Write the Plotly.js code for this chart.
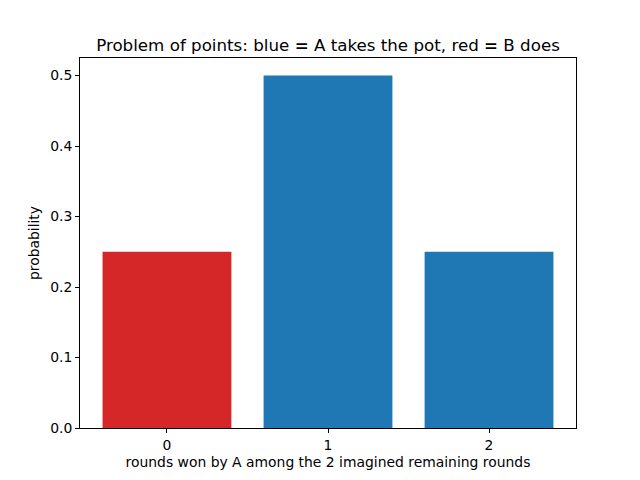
<!DOCTYPE html>
<html>
<head>
<meta charset="utf-8">
<script src="https://cdn.plot.ly/plotly-3.1.0.min.js"></script>
<style>
  html, body { margin: 0; padding: 0; background: #fff; }
  #chart { width: 640px; height: 480px; }
</style>
</head>
<body>
<div id="chart"></div>
<script>
// rounds won by A, and the probability of each outcome
const roundsWon = [0, 1, 2];
const probability = [0.25, 0.5, 0.25];
const winner = ["B", "A", "A"];
const tickLabels = ["0", "1", "2"];

const colorFor = { A: "#1f77b4", B: "#d62728" };

const trace = {
  type: "bar",
  x: roundsWon,
  y: probability,
  width: 0.8,
  marker: { color: winner.map(w => colorFor[w]), line: { width: 0 } },
  hoverinfo: "x+y"
};

const axisStyle = {
  showline: true,
  mirror: true,
  linecolor: "#000",
  linewidth: 1,
  showgrid: false,
  zeroline: false,
  ticks: "outside",
  ticklen: 4,
  tickwidth: 1,
  tickcolor: "#000",
  tickfont: { size: 13.9, color: "#000" }
};

const layout = {
  width: 640,
  height: 480,
  margin: { l: 80, r: 64, t: 58, b: 52 },
  paper_bgcolor: "#fff",
  plot_bgcolor: "#fff",
  font: { family: "DejaVu Sans, sans-serif", color: "#000" },
  showlegend: false,
  title: {
    text: "Problem of points: blue <b>=</b> A takes the pot, red <b>=</b> B does",
    font: { size: 16.7, color: "#000" },
    x: 0.5, xref: "paper", xanchor: "center",
    y: 1, yref: "paper", yanchor: "bottom", pad: { b: 7 }
  },
  xaxis: Object.assign({}, axisStyle, {
    range: [-0.54, 2.54],
    tickvals: roundsWon,
    ticktext: tickLabels,
    title: { text: "rounds won by A among the 2 imagined remaining rounds", font: { size: 13.9 }, standoff: 5 }
  }),
  yaxis: Object.assign({}, axisStyle, {
    range: [0, 0.525],
    tickvals: [0, 0.1, 0.2, 0.3, 0.4, 0.5],
    tickformat: ".1f",
    title: { text: "probability", font: { size: 13.9 }, standoff: 7 }
  })
};

Plotly.newPlot("chart", [trace], layout, { displayModeBar: false, staticPlot: true });
</script>
</body>
</html>
